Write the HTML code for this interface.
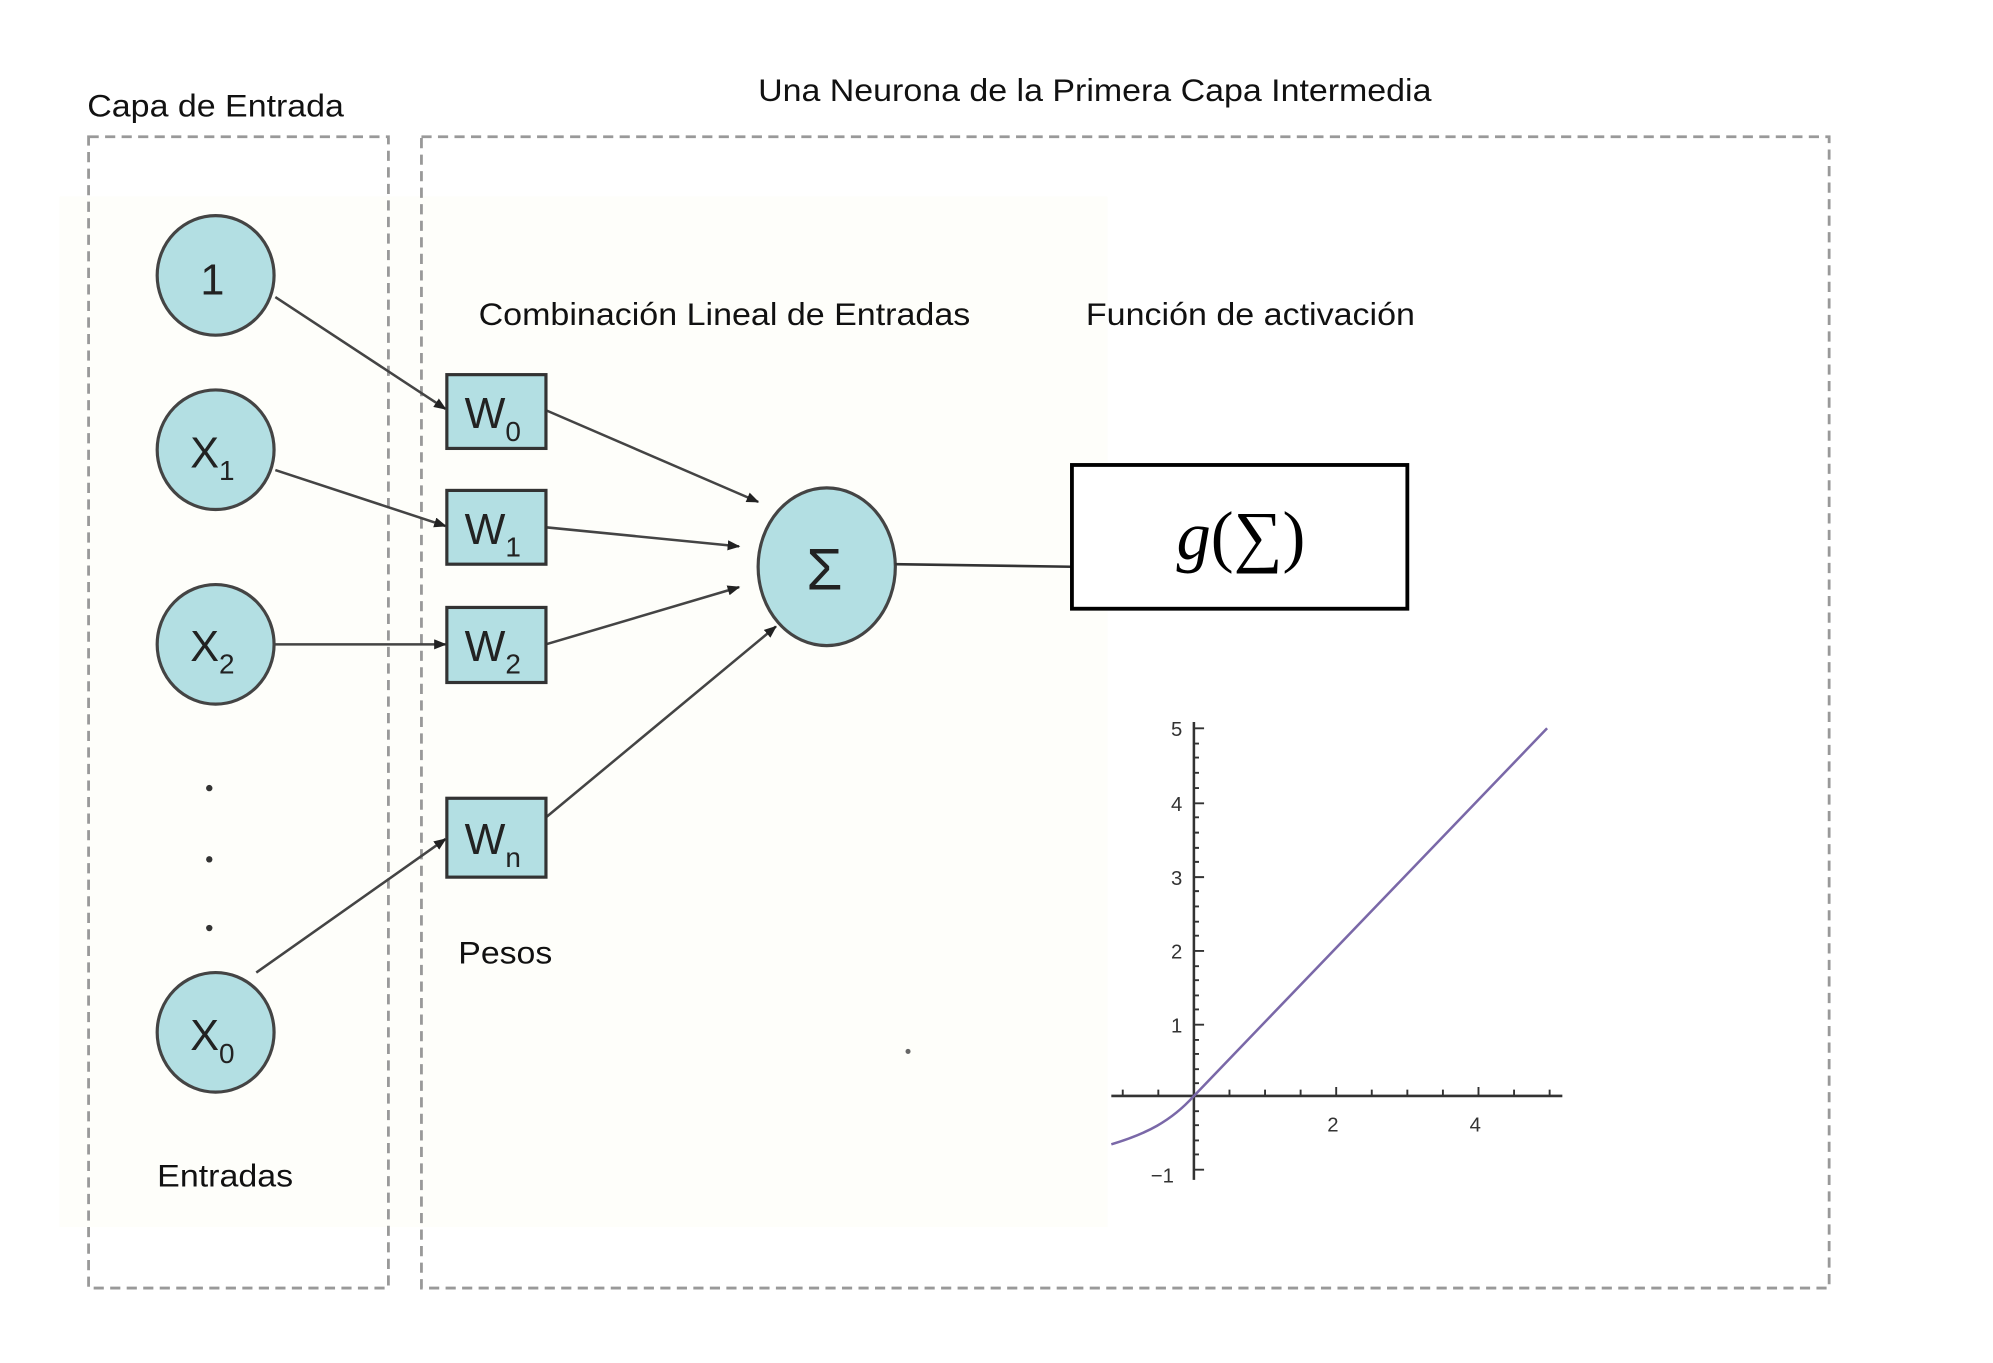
<!DOCTYPE html>
<html><head><meta charset="utf-8"><style>
html,body{margin:0;padding:0;background:#fff;}
svg{display:block;}
text{font-family:"Liberation Sans",sans-serif;}
</style></head><body>
<svg width="1993" height="1363" viewBox="0 0 1553 1080" preserveAspectRatio="none" xmlns="http://www.w3.org/2000/svg">
<defs>
<marker id="ah" markerWidth="10" markerHeight="8" refX="9" refY="4" orient="auto" markerUnits="userSpaceOnUse">
<path d="M0,0 L10,4 L0,8 Z" fill="#222"/>
</marker>
</defs>
<g transform="matrix(0.99 0 0 1.008 1.7 -0.5)">
<rect x="45" y="155" width="825" height="810" fill="#fefefa"/>
<text x="67" y="92" font-size="25" fill="#111" textLength="202" lengthAdjust="spacingAndGlyphs">Capa de Entrada</text>
<text x="595" y="80" font-size="25" fill="#111" textLength="530" lengthAdjust="spacingAndGlyphs">Una Neurona de la Primera Capa Intermedia</text>
<rect x="68" y="108" width="236" height="905" fill="none" stroke="#999" stroke-width="2.2" stroke-dasharray="8,5"/>
<rect x="330" y="108" width="1108" height="905" fill="none" stroke="#999" stroke-width="2.2" stroke-dasharray="8,5"/>
<g stroke="#444" stroke-width="2" fill="none" marker-end="url(#ah)">
<line x1="215" y1="234" x2="349" y2="322"/>
<line x1="215" y1="370" x2="349" y2="414"/>
<line x1="215" y1="507" x2="349" y2="507"/>
<line x1="200" y1="765" x2="349" y2="660"/>
<line x1="428" y1="323" x2="595" y2="395"/>
<line x1="428" y1="415" x2="580" y2="430"/>
<line x1="428" y1="507" x2="580" y2="462"/>
<line x1="428" y1="643" x2="609" y2="493"/>
</g>
<g fill="#b3dfe3" stroke="#444" stroke-width="2.5">
<ellipse cx="168" cy="217" rx="46" ry="47"/>
<ellipse cx="168" cy="354" rx="46" ry="47"/>
<ellipse cx="168" cy="507" rx="46" ry="47"/>
<ellipse cx="168" cy="812" rx="46" ry="47"/>
<ellipse cx="649" cy="446" rx="54" ry="62"/>
</g>
<g fill="#b3dfe3" stroke="#333" stroke-width="2.5">
<rect x="350" y="295" width="78" height="58"/>
<rect x="350" y="386" width="78" height="58"/>
<rect x="350" y="478" width="78" height="59"/>
<rect x="350" y="628" width="78" height="62"/>
</g>
<g fill="#222" font-size="34">
<text x="156" y="232">1</text>
<text x="148" y="368">X<tspan font-size="22" dy="10">1</tspan></text>
<text x="148" y="520">X<tspan font-size="22" dy="10">2</tspan></text>
<text x="148" y="826">X<tspan font-size="22" dy="10">0</tspan></text>
<text x="364" y="337">W<tspan font-size="22" dy="10">0</tspan></text>
<text x="364" y="428">W<tspan font-size="22" dy="10">1</tspan></text>
<text x="364" y="520">W<tspan font-size="22" dy="10">2</tspan></text>
<text x="364" y="672">W<tspan font-size="22" dy="10">n</tspan></text>
<text x="633" y="464" font-size="46">Σ</text>
</g>
<circle cx="163" cy="620" r="2.5" fill="#333"/>
<circle cx="163" cy="676" r="2.5" fill="#333"/>
<circle cx="163" cy="730" r="2.5" fill="#333"/>
<line x1="703" y1="444" x2="842" y2="446" stroke="#333" stroke-width="2"/>
<rect x="842" y="366" width="264" height="113" fill="#fff" stroke="#000" stroke-width="3"/>
<text x="975" y="440" font-size="54" text-anchor="middle" style="font-family:'Liberation Serif',serif"><tspan font-style="italic">g</tspan>(∑)</text>
<text x="375" y="256" font-size="25" fill="#111" textLength="387" lengthAdjust="spacingAndGlyphs">Combinación Lineal de Entradas</text>
<text x="853" y="256" font-size="25" fill="#111" textLength="259" lengthAdjust="spacingAndGlyphs">Función de activación</text>
<text x="359" y="758" font-size="25" fill="#111" textLength="74" lengthAdjust="spacingAndGlyphs">Pesos</text>
<text x="122" y="933" font-size="25" fill="#111" textLength="107" lengthAdjust="spacingAndGlyphs">Entradas</text>
<circle cx="713" cy="827" r="2" fill="#666"/>
<g stroke="#333" stroke-width="2">
<line x1="873" y1="862" x2="1228" y2="862"/>
<line x1="938" y1="568" x2="938" y2="928"/>
</g>
<g stroke="#333" stroke-width="1.5">
<path d="M938,573h8M938,632h8M938,690h8M938,748h8M938,806h8M938,920h8"/>
<path d="M938,585h4M938,596h4M938,608h4M938,620h4M938,643h4M938,655h4M938,667h4M938,678h4M938,701h4M938,713h4M938,725h4M938,736h4M938,760h4M938,771h4M938,783h4M938,794h4M938,818h4M938,829h4M938,841h4M938,852h4M938,874h4M938,885h4M938,897h4M938,908h4"/>
<path d="M882,862v-5M910,862v-5M966,862v-5M994,862v-5M1022,862v-5M1050,862v-7M1078,862v-5M1106,862v-5M1134,862v-5M1162,862v-7M1190,862v-5M1218,862v-5"/>
</g>
<g style="font-family:'Liberation Serif',serif" font-size="16" fill="#333">
<text x="920" y="579">5</text><text x="920" y="638">4</text><text x="920" y="696">3</text><text x="920" y="754">2</text><text x="920" y="812">1</text><text x="904" y="930">−1</text>
<text x="1043" y="890">2</text><text x="1155" y="890">4</text>
</g>
<path d="M873,900 C900,892 920,882 938,862 L1216,573" fill="none" stroke="#7a68a8" stroke-width="2"/>
</g>
</svg>
</body></html>
